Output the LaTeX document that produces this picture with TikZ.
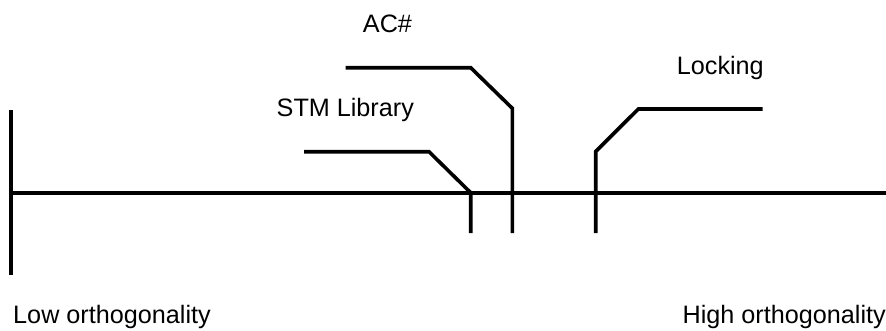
\documentclass[tikz,border=0pt]{standalone}
\usepackage{fontspec}
\setmainfont{Liberation Sans}
\begin{document}
\begin{tikzpicture}[x=1pt,y=-1pt,
  axis/.style={line width=3.6pt,black},
  leader/.style={line width=3.6pt,black,line join=miter},
  lbl/.style={inner sep=0pt,anchor=base,font=\fontsize{25.2}{30}\selectfont}]
\useasboundingbox (0,0) rectangle (886,330);
% axis
\coordinate (vt) at (11,110);
\coordinate (vb) at (11,275);
\coordinate (hl) at (11,192.7);
\coordinate (hr) at (886,192.7);
\draw[axis] (vt) -- (vb);
\draw[axis] (hl) -- (hr);
% STM Library
\coordinate (s1) at (304,151.7);
\coordinate (s2) at (429,151.7);
\coordinate (s3) at (470.7,192.7);
\coordinate (s4) at (470.7,233);
\draw[leader] (s1) -- (s2) -- (s3) -- (s4);
% AC#
\coordinate (a1) at (345.7,67.7);
\coordinate (a2) at (470.7,67.7);
\coordinate (a3) at (512.3,108.3);
\coordinate (a4) at (512.3,233);
\draw[leader] (a1) -- (a2) -- (a3) -- (a4);
% Locking
\coordinate (l1) at (762.7,109);
\coordinate (l2) at (638.3,109);
\coordinate (l3) at (595.7,151.5);
\coordinate (l4) at (595.7,233);
\draw[leader] (l1) -- (l2) -- (l3) -- (l4);
% labels
\node[lbl] (tac) at (387.5,32.5) {AC\#};
\node[lbl] (tstm) at (345.3,116) {STM Library};
\node[lbl] (tlock) at (720.3,74.3) {Locking};
\node[lbl] (tlow) at (112,323.3) {Low orthogonality};
\node[lbl,anchor=base east] (thigh) at (886,323.3) {High orthogonality};
\end{tikzpicture}
\end{document}
